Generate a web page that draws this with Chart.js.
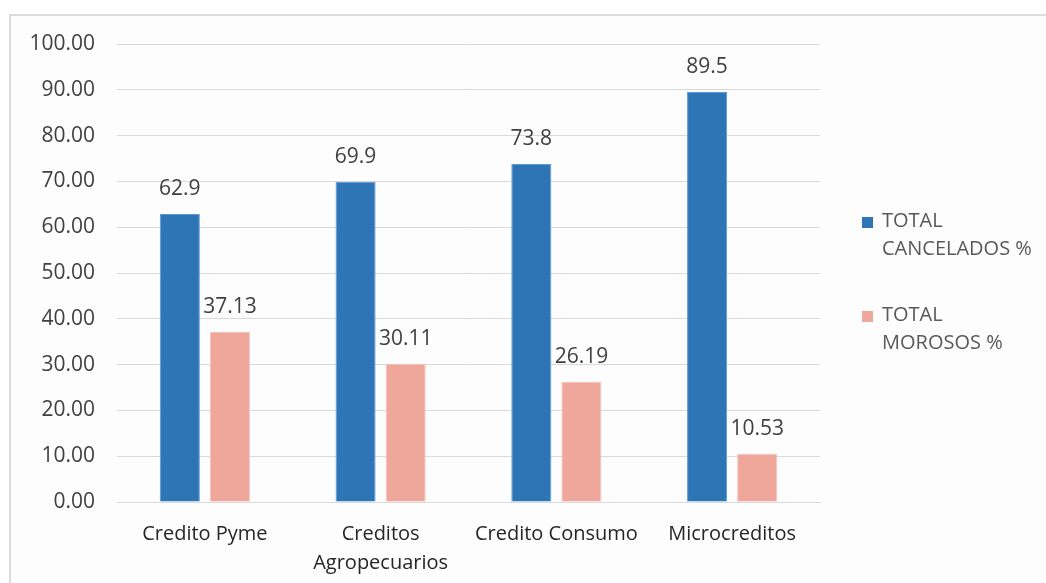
<!DOCTYPE html>
<html>
<head>
<meta charset="utf-8">
<script src="https://cdn.jsdelivr.net/npm/chart.js@4/dist/chart.umd.min.js"></script>
<style>
  html, body { margin: 0; padding: 0; background: #fff; }
  #wrap { position: relative; width: 1046px; height: 583px; overflow: hidden; }
  #frame {
    position: absolute; left: 9px; top: 14px; width: 1100px; height: 600px;
    border-top: 2px solid #dcdcdc; border-left: 2px solid #dcdcdc;
    background: #fdfdfd;
  }
  #chart { position: absolute; left: 0; top: 0; }
</style>
</head>
<body>
<div id="wrap">
  <div id="frame"></div>
  <canvas id="chart" width="1046" height="583"></canvas>
</div>
<script>
const categories = ['Credito Pyme', ['Creditos', 'Agropecuarios'], 'Credito Consumo', 'Microcreditos'];
const cancelados = [62.9, 69.9, 73.8, 89.5];
const morosos = [37.13, 30.11, 26.19, 10.53];
const seriesNames = [['TOTAL', 'CANCELADOS %'], ['TOTAL', 'MOROSOS %']];
const decimals = [1, 2];

const FONT = '"Open Sans", sans-serif';

// values above bars
const barLabels = {
    id: 'barLabels',
    afterDatasetsDraw(chart) {
        const ctx = chart.ctx;
        ctx.save();
        ctx.font = '21px ' + FONT;
        ctx.fillStyle = '#404040';
        ctx.textAlign = 'center';
        ctx.textBaseline = 'middle';
        chart.data.datasets.forEach((ds, i) => {
            chart.getDatasetMeta(i).data.forEach((bar, j) => {
                ctx.fillText(ds.data[j].toFixed(decimals[i]), bar.x, bar.y - 25);
            });
        });
        ctx.restore();
    }
};

// legend at right, two-line labels
const sideLegend = {
    id: 'sideLegend',
    afterDraw(chart) {
        const ctx = chart.ctx;
        ctx.save();
        ctx.font = '20px ' + FONT;
        ctx.textBaseline = 'middle';
        const starts = [221, 315];
        chart.data.datasets.forEach((ds, i) => {
            const y = starts[i];
            ctx.fillStyle = ds.backgroundColor;
            ctx.fillRect(862, y - 4, 11, 11);
            ctx.fillStyle = '#595959';
            seriesNames[i].forEach((line, k) => {
                ctx.fillText(line, 882, y + k * 28);
            });
        });
        ctx.restore();
    }
};

new Chart(document.getElementById('chart').getContext('2d'), {
    type: 'bar',
    data: {
        labels: categories,
        datasets: [{
            label: 'TOTAL CANCELADOS %',
            data: cancelados,
            backgroundColor: '#2E75B6',
            borderColor: '#5B9BD5',
            borderWidth: 1,
            categoryPercentage: 0.57,
            barPercentage: 0.8
        }, {
            label: 'TOTAL MOROSOS %',
            data: morosos,
            backgroundColor: '#EFA69B',
            borderColor: '#F5C3BC',
            borderWidth: 1,
            categoryPercentage: 0.57,
            barPercentage: 0.8
        }]
    },
    options: {
        responsive: false,
        animation: false,
        layout: {
            padding: { top: 44, right: 226, bottom: 0, left: 0 }
        },
        scales: {
            x: {
                grid: { display: false },
                border: { color: '#d9d9d9', width: 1 },
                ticks: {
                    color: '#262626',
                    font: { family: FONT, size: 20, lineHeight: 1.45 },
                    padding: 10,
                    maxRotation: 0
                },
                afterFit(scale) { scale.height = 81; }
            },
            y: {
                min: 0,
                max: 100,
                grid: { color: '#d9d9d9', drawTicks: false },
                border: { display: false },
                ticks: {
                    stepSize: 10,
                    color: '#404040',
                    font: { family: FONT, size: 21 },
                    padding: 22,
                    callback: (v) => v.toFixed(2)
                },
                afterFit(scale) { scale.width = 117; }
            }
        },
        plugins: {
            legend: { display: false },
            tooltip: { enabled: false }
        }
    },
    plugins: [barLabels, sideLegend]
});
</script>
</body>
</html>
